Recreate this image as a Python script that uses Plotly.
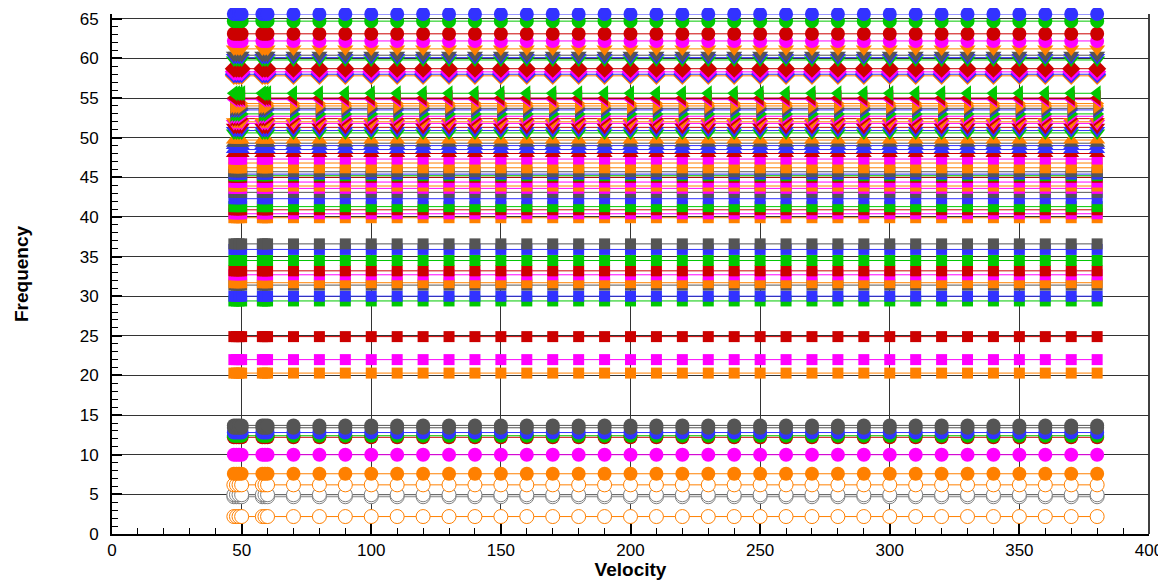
import plotly.graph_objects as go

# Velocities (x) at which every mode is sampled
velocity = [47, 48, 49, 50, 58, 59, 60] + list(range(70, 390, 10))

# Mode frequency levels (each mode is flat across velocity), bottom to top
freq_levels = [
    2.2, 4.7, 4.95, 6.2, 7.6, 10.0,
    12.2, 12.4, 12.8, 13.4, 13.7,
    20.3, 22.0, 24.9, 29.4, 30.0, 31.4, 31.7, 32.7, 33.2, 34.5, 35.9, 36.6,
    39.9, 40.4, 40.9, 41.3, 42.3, 43.1, 43.6, 43.9, 44.4, 45.0, 45.2, 45.4,
    45.7, 46.2, 46.8, 47.3,
    48.0, 48.5, 49.0, 49.3, 49.7,
    50.6, 50.9, 51.3, 51.8, 52.0,
    52.4, 52.7, 53.0, 53.5, 53.7, 54.0, 54.3,
    54.8, 55.0, 55.6,
    57.8, 58.0, 58.3, 58.7,
    59.8, 60.1, 60.4, 61.2,
    62.2, 63.1, 64.7, 65.6,
]
mode_colors = [
    "orange", "grayl", "grayl", "orange", "orange", "magenta",
    "red", "green", "blue", "gray", "gray",
    "orange", "magenta", "red", "green", "blue", "gray", "orange", "magenta", "red", "green", "blue", "gray",
    "orange", "magenta", "red", "green", "blue", "gray", "magenta", "orange", "magenta", "red", "green", "blue",
    "gray", "orange", "orange", "magenta",
    "red", "blue", "blue", "gray", "orange",
    "green", "blue", "red", "magenta", "orange",
    "red", "magenta", "green", "blue", "gray", "orange", "orange",
    "magenta", "red", "green",
    "orange", "blue", "magenta", "red",
    "green", "blue", "gray", "orange",
    "magenta", "red", "green", "blue",
]
mode_symbols = (
    ["open"] * 4 + ["circle"] * 7 + ["square"] * 28 + ["triangle-up"] * 5
    + ["triangle-down"] * 5 + ["triangle-right"] * 7 + ["triangle-left"] * 3
    + ["diamond"] * 4 + ["triangle-down"] * 4 + ["circle"] * 4
)

palette = {
    "orange": "#FF8000",
    "magenta": "#FF00FF",
    "red": "#CC0000",
    "green": "#00C800",
    "blue": "#3232FF",
    "gray": "#555555",
    "grayl": "#808080",
}
sizes = {"open": 14, "circle": 14, "square": 11, "triangle-up": 14,
         "triangle-down": 14, "triangle-right": 14, "triangle-left": 14,
         "diamond": 14}

fig = go.Figure()

# lines first
for f, c in zip(freq_levels, mode_colors):
    fig.add_trace(go.Scatter(
        x=velocity, y=[f] * len(velocity), mode="lines",
        line=dict(color=palette[c], width=1), showlegend=False, hoverinfo="skip"))

# markers on top
for f, c, s in zip(freq_levels, mode_colors, mode_symbols):
    col = palette[c]
    if s == "open":
        marker = dict(symbol="circle", size=sizes[s], color="white",
                      line=dict(color=col, width=1))
    else:
        marker = dict(symbol=s, size=sizes[s], color=col, line=dict(width=0))
    fig.add_trace(go.Scatter(
        x=velocity, y=[f] * len(velocity), mode="markers",
        marker=marker, showlegend=False, cliponaxis=False))

font_family = "Liberation Sans, Arial, sans-serif"

# right-hand frame line of the plot area
fig.add_shape(type="line", xref="x domain", yref="y domain",
              x0=1, x1=1, y0=0, y1=1,
              line=dict(color="black", width=1.5), layer="below")

# page body has an 8px margin, so the figure is sized to fit the window
fig.update_layout(
    width=1158, height=572,
    margin=dict(l=104, r=17, t=6, b=46),
    paper_bgcolor="white", plot_bgcolor="white",
    font=dict(family=font_family, size=17, color="black"),
    xaxis=dict(
        range=[0, 400], tick0=0, dtick=50,
        showline=True, linecolor="black", linewidth=2,
        ticks="inside", ticklen=10, tickwidth=2, tickcolor="black",
        minor=dict(dtick=10, ticks="inside", ticklen=6, tickwidth=1,
                   tickcolor="black", showgrid=False),
        showgrid=True, gridcolor="#333333", gridwidth=1,
        zeroline=False,
        title=dict(text="<b>Velocity</b>", font=dict(size=19), standoff=2),
        automargin=False,
    ),
    yaxis=dict(
        range=[0, 65.6], tick0=0, dtick=5,
        showline=True, linecolor="black", linewidth=2,
        ticks="inside", ticklen=10, tickwidth=2, tickcolor="black",
        minor=dict(dtick=1, ticks="inside", ticklen=6, tickwidth=1,
                   tickcolor="black", showgrid=False),
        showgrid=True, gridcolor="#333333", gridwidth=1,
        zeroline=False,
        ticklabelstandoff=8,
        title=dict(text="<b>Frequency</b>", font=dict(size=19), standoff=46),
        automargin=False,
    ),
)

fig.write_html("out.html")
